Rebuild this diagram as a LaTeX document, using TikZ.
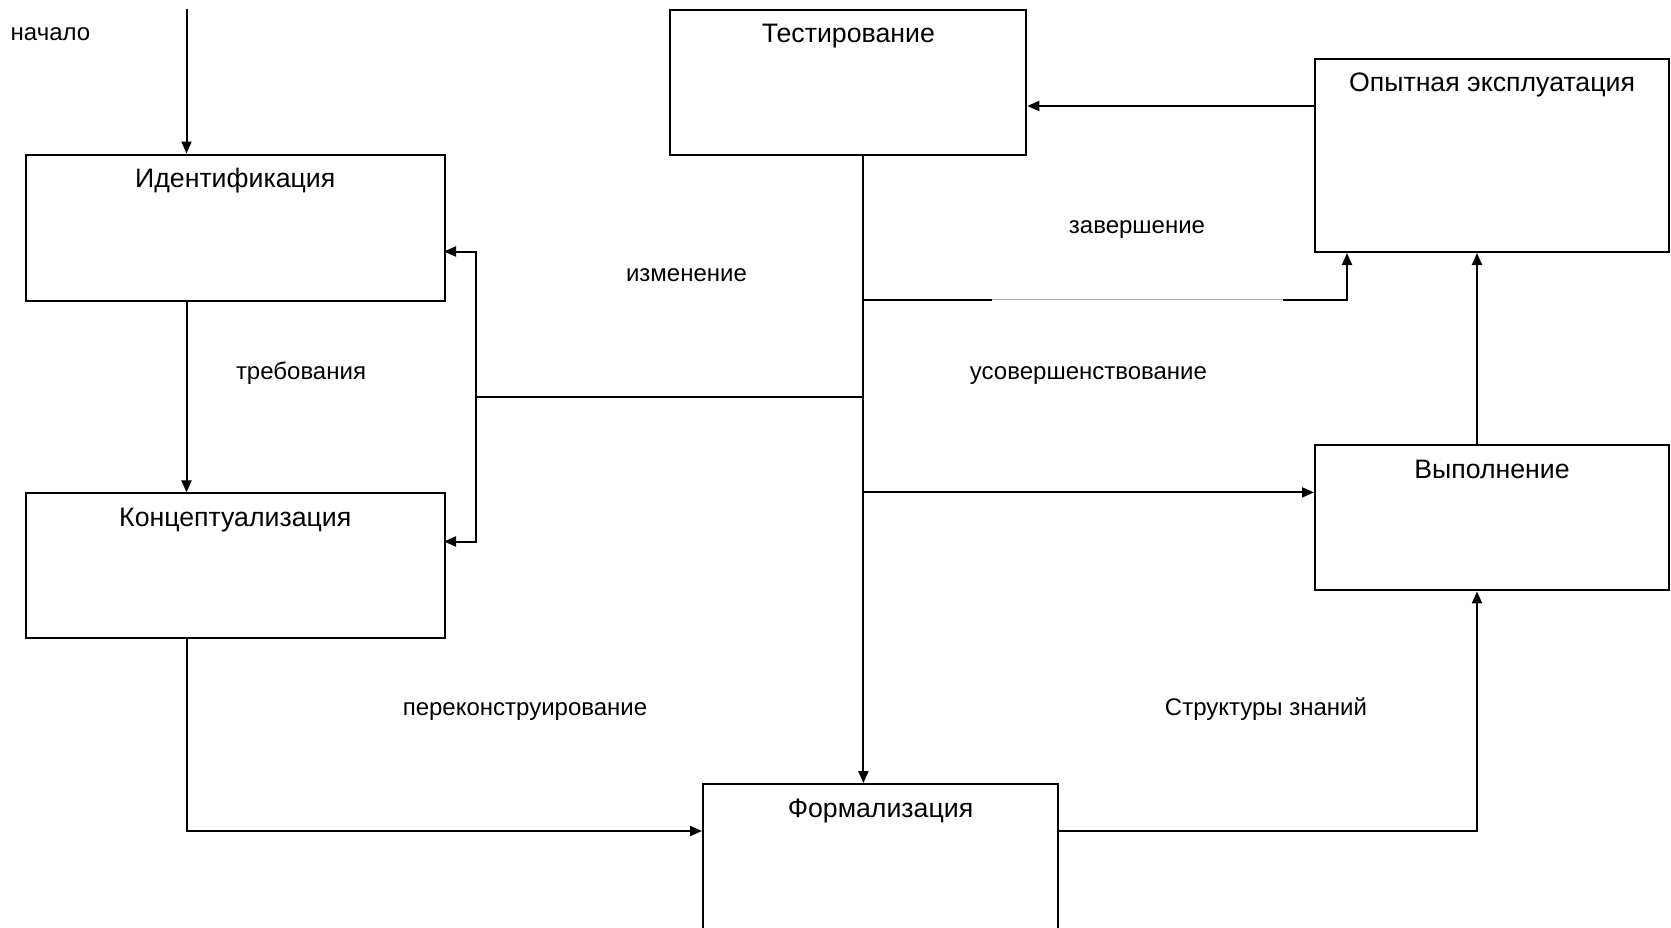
\documentclass[tikz,border=0pt]{standalone}
\usepackage{fontspec}
\setmainfont{Liberation Sans}
\usetikzlibrary{arrows.meta}

\begin{document}
\begin{tikzpicture}[x=1pt, y=-1pt,
    stage/.style={draw, line width=2pt, rectangle, anchor=north west, inner sep=0pt},
    stagetitle/.style={anchor=base, font=\fontsize{26.7}{30}\selectfont},
    flowlabel/.style={anchor=base, font=\fontsize{24}{28}\selectfont},
    link/.style={line width=2pt},
    arr/.style={link, -{Triangle[length=12pt, width=10pt]}}]

\path[use as bounding box, clip] (0,0) rectangle (1671,927);
\fill[white] (0,0) rectangle (1671,927);

% Stage boxes
\node[stage, minimum width=419.5pt, minimum height=146pt] (ident) at (24.5,153.5) {};
\node[stage, minimum width=419.5pt, minimum height=145pt] (concept) at (24.5,492.4) {};
\node[stage, minimum width=356pt, minimum height=145pt] (test) at (669.3,8.5) {};
\node[stage, minimum width=354pt, minimum height=193.5pt] (trial) at (1314,57.5) {};
\node[stage, minimum width=354pt, minimum height=145pt] (exec) at (1314,444.4) {};
\node[stage, minimum width=355pt, minimum height=180pt] (formal) at (702,783) {};

% Stage titles
\node[stagetitle] (identT) at ([yshift=-34.3pt]ident.north) {Идентификация};
\node[stagetitle] (conceptT) at ([yshift=-34.3pt]concept.north) {Концептуализация};
\node[stagetitle] (testT) at ([yshift=-34.3pt]test.north) {Тестирование};
\node[stagetitle] (trialT) at ([yshift=-34.3pt]trial.north) {Опытная эксплуатация};
\node[stagetitle] (execT) at ([yshift=-34.3pt]exec.north) {Выполнение};
\node[stagetitle] (formalT) at ([yshift=-34.3pt]formal.north) {Формализация};

% Routing points
\coordinate (start) at (186.5,8.5);
\coordinate (trunk) at (863.4,0);
\coordinate (back) at (476,396.5);
\coordinate (identin) at (444,251.5);
\coordinate (conceptin) at (444,541.5);
\coordinate (formin) at (702,831);
\coordinate (done) at (1347,299.5);
\coordinate (better) at (1314,492.4);
\coordinate (trialout) at (1314,106);
\coordinate (right) at (1477,0);

% Left column
\draw[arr] (start) -- (start |- ident.north);
\draw[arr] (ident.south -| start) -- (concept.north -| start);
\draw[arr] (concept.south -| start) |- (formin);

% Central trunk and its branches
\draw[arr] (test.south -| trunk) -- (formal.north -| trunk);
\draw[link] (trunk |- back) -- (back);
\draw[arr] (back) |- (identin);
\draw[arr] (back) |- (conceptin);
\draw[arr] (trunk |- done) -| (trial.south -| done);
\draw[white, line width=2.6pt] (992,299.5) -- (1282.5,299.5);
\draw[black!30, line width=1pt] (992,299.5) -- (1282.5,299.5);
\draw[arr] (trunk |- better) -- (better);

% Right column
\draw[arr] (trialout) -- (test.east |- trialout);
\draw[arr] (exec.north -| right) -- (trial.south -| right);
\draw[arr] (formal.east |- formin) -| (exec.south -| right);

% Flow labels
\node[flowlabel] (startL) at (50.5,40) {начало};
\node[flowlabel] (reqL) at (301,379) {требования};
\node[flowlabel] (changeL) at (686.5,281.5) {изменение};
\node[flowlabel] (rebuildL) at (525,715) {переконструирование};
\node[flowlabel] (doneL) at (1137,233) {завершение};
\node[flowlabel] (betterL) at (1088.5,379) {усовершенствование};
\node[flowlabel] (knowL) at (1266,715) {Структуры знаний};

\end{tikzpicture}
\end{document}
